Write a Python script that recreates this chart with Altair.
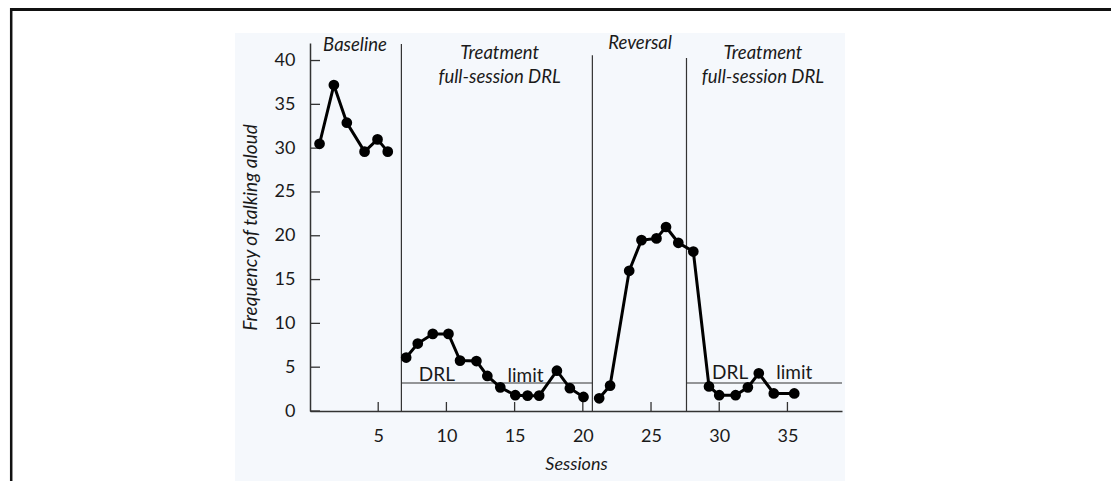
import altair as alt
import pandas as pd

# ---- data ----
baseline_sessions = [0.7, 1.75, 2.7, 4.0, 4.95, 5.7]
baseline_freq = [30.5, 37.2, 32.9, 29.6, 31.0, 29.6]

treatment_sessions = [7.05, 7.9, 9.0, 10.15, 11.0, 12.2, 13.0, 13.95, 15.05, 15.95, 16.8, 18.1, 19.05, 20.05]
treatment_freq = [6.1, 7.7, 8.8, 8.8, 5.75, 5.7, 4.0, 2.7, 1.8, 1.75, 1.75, 4.6, 2.6, 1.6]

reversal_sessions = [21.2, 22.0, 23.4, 24.3, 25.4, 26.1, 27.0, 28.1, 29.25, 30.0, 31.2, 32.1, 32.9, 34.0, 35.5]
reversal_freq = [1.45, 2.9, 16.0, 19.5, 19.7, 21.0, 19.2, 18.2, 2.8, 1.8, 1.8, 2.7, 4.3, 2.0, 2.0]

phase_change_sessions = [6.7, 20.7, 27.6]
phase_change_tops = [41.9, 40.6, 40.3]

limit_start = [6.7, 27.6]
limit_end = [20.7, 39.0]
limit_value = [3.2, 3.2]

phase_labels = ["Baseline", "Treatment", "full-session DRL", "Reversal", "Treatment", "full-session DRL"]
phase_label_x = [3.3, 13.9, 13.9, 24.2, 33.2, 33.2]
phase_label_y = [41.75, 40.85, 38.1, 42.0, 40.85, 38.1]

limit_labels = ["DRL", "limit", "DRL", "limit"]
limit_label_x = [9.3, 15.8, 30.8, 35.5]
limit_label_y = [4.15, 4.05, 4.35, 4.35]

y_ticks = [0, 5, 10, 15, 20, 25, 30, 35, 40]
x_ticks = [5, 10, 15, 20, 25, 30, 35]

# ---- tables ----
rows = []
for seg, xs, ys in [("baseline", baseline_sessions, baseline_freq),
                    ("treatment", treatment_sessions, treatment_freq),
                    ("reversal", reversal_sessions, reversal_freq)]:
    for i, (a, b) in enumerate(zip(xs, ys)):
        rows.append({"segment": seg, "order": i, "session": a, "freq": b})
pts = pd.DataFrame(rows)

phase_df = pd.DataFrame({"session": phase_change_sessions, "freq": [0] * 3, "y1": phase_change_tops})
limit_df = pd.DataFrame({"session": limit_start, "s1": limit_end, "freq": limit_value})
plab_df = pd.DataFrame({"label": phase_labels, "session": phase_label_x, "freq": phase_label_y})
llab_df = pd.DataFrame({"label": limit_labels, "session": limit_label_x, "freq": limit_label_y})
ytick_df = pd.DataFrame({"freq": y_ticks})
xtick_df = pd.DataFrame({"session": x_ticks})

W, H = 532, 368
FONT = "Lato"
INK = "#1a1a1a"

xs_ = alt.Scale(domain=[0, 39], nice=False, zero=False)
ys_ = alt.Scale(domain=[0, 42], nice=False, zero=False)

x_axis = alt.Axis(
    values=x_ticks, tickSize=0, labelPadding=16, labelFontSize=18, labelFont=FONT,
    labelColor=INK, domainColor="#333", domainWidth=1.5, grid=False, zindex=1,
    title="Sessions", titleFont=FONT, titleFontSize=18, titleFontStyle="italic",
    titleFontWeight="normal", titleColor=INK, titlePadding=10)
y_axis = alt.Axis(
    values=y_ticks, tickSize=0, labelPadding=15, labelFontSize=18, labelFont=FONT,
    labelColor=INK, domainColor="#333", domainWidth=1.5, grid=False, zindex=1,
    title="Frequency of talking aloud", titleFont=FONT, titleFontSize=19,
    titleFontStyle="italic", titleFontWeight="normal", titleColor=INK, titlePadding=14)

X = alt.X("session:Q", scale=xs_, axis=x_axis, title="Sessions")
Y = alt.Y("freq:Q", scale=ys_, axis=y_axis, title="Frequency of talking aloud")

# decorative background panel and frame (pixel positions relative to plot)
one = pd.DataFrame({"a": [0]})
bg = alt.Chart(one).mark_rect(color="#f5f8fc").encode(
    x=alt.value(-75), x2=alt.value(535), y=alt.value(-10), y2=alt.value(440))
frame_top = alt.Chart(one).mark_rule(color="#111", strokeWidth=3).encode(
    x=alt.value(-300), x2=alt.value(810), y=alt.value(-33.5))
frame_left = alt.Chart(one).mark_rule(color="#111", strokeWidth=2.5).encode(
    x=alt.value(-298.8), y=alt.value(-35), y2=alt.value(445))

ytick = alt.Chart(ytick_df).mark_rule(color="#333", strokeWidth=1.3).encode(
    y=Y, x=alt.value(0), x2=alt.value(10))
xtick = alt.Chart(xtick_df).mark_rule(color="#333", strokeWidth=1.3).encode(
    x=X, y=alt.value(H), y2=alt.value(H - 9))

phase = alt.Chart(phase_df).mark_rule(color="#333", strokeWidth=1.2).encode(
    x=X, y=Y, y2="y1:Q")

limit = alt.Chart(limit_df).mark_rule(color="#333", strokeWidth=1.1).encode(
    x=X, x2="s1:Q", y=Y)

line = alt.Chart(pts).mark_line(color="#000", strokeWidth=3).encode(
    x=X, y=Y, detail="segment:N", order="order:Q")

dots = alt.Chart(pts).mark_circle(color="#000", opacity=1, size=115).encode(x=X, y=Y)

plab = alt.Chart(plab_df).mark_text(font=FONT, fontSize=18.5, fontStyle="italic", color=INK).encode(
    x=X, y=Y, text="label:N")

llab = alt.Chart(llab_df).mark_text(font=FONT, fontSize=19, color=INK).encode(
    x=X, y=Y, text="label:N")

chart = alt.layer(bg, frame_top, frame_left, ytick, xtick, phase, limit, line, dots, plab, llab).properties(
    width=W, height=H,
    autosize=alt.AutoSizeParams(type="none"),
    padding={"left": 302, "top": 35, "right": 269, "bottom": 70},
    background="white",
).configure_view(stroke=None)

chart.save("out.html", embed_options={"renderer": "svg", "actions": False})
